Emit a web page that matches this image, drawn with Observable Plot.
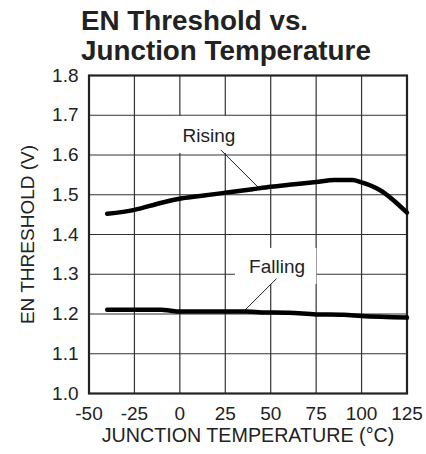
<!DOCTYPE html>
<html>
<head>
<meta charset="utf-8">
<script src="https://cdn.jsdelivr.net/npm/d3@7"></script>
<script src="https://cdn.jsdelivr.net/npm/@observablehq/plot@0.6"></script>
<style>
  html, body { margin: 0; padding: 0; background: white; }
  #wrap { position: relative; width: 426px; height: 454px; }
  #title { position: absolute; left: 81px; top: 5.8px; font: bold 27.8px/30.5px "Liberation Sans", Arial, sans-serif; color: #222; white-space: nowrap; z-index: 2; }
  #chart { position: absolute; left: 0; top: 0; }
</style>
</head>
<body>
<div id="wrap">
  <div id="title"></div>
  <div id="chart"></div>
</div>
<script>
const titleLines = ["EN Threshold vs.", "Junction Temperature"];
const xLabel = "JUNCTION TEMPERATURE (°C)";
const yLabel = "EN THRESHOLD (V)";
const xTicks = [-50, -25, 0, 25, 50, 75, 100, 125];
const yTicks = [1.0, 1.1, 1.2, 1.3, 1.4, 1.5, 1.6, 1.7, 1.8];

const risingTemp = [-40, -25, -10, 0, 10, 25, 40, 50, 60, 75, 85, 95, 100, 110, 125];
const risingVolt = [1.452, 1.462, 1.480, 1.490, 1.496, 1.505, 1.514, 1.520, 1.525, 1.532, 1.537, 1.537, 1.531, 1.512, 1.455];
const fallingTemp = [-40, -25, -10, -5, 0, 25, 37, 45, 60, 75, 90, 100, 125];
const fallingVolt = [1.211, 1.211, 1.211, 1.208, 1.206, 1.206, 1.206, 1.204, 1.203, 1.199, 1.198, 1.195, 1.191];

// annotation labels: text, position (temp, volt), white box behind, leader start/end
const labelNames = ["Rising", "Falling"];
const labelTemp = [16, 53.5];
const labelVolt = [1.6475, 1.318];
const boxTemp = [[-3, 26.5], [30.6, 75.4]];
const boxVolt = [[1.604, 1.697], [1.274, 1.365]];
const leaderFrom = [[22.5, 1.613], [53.2, 1.289]];
const leaderTo = [[43.5, 1.517], [35, 1.206]];

document.getElementById("title").innerHTML = titleLines.join("<br>");

const rising = risingTemp.map((t, i) => ({t, v: risingVolt[i]}));
const falling = fallingTemp.map((t, i) => ({t, v: fallingVolt[i]}));
const labels = labelNames.map((name, i) => ({name, t: labelTemp[i], v: labelVolt[i]}));
const boxes = boxTemp.map((b, i) => ({x1: b[0], x2: b[1], y1: boxVolt[i][0], y2: boxVolt[i][1]}));
const leaders = leaderFrom.map((f, i) => ({x1: f[0], y1: f[1], x2: leaderTo[i][0], y2: leaderTo[i][1]}));

const chart = Plot.plot({
  width: 426,
  height: 454,
  marginLeft: 88.5,
  marginRight: 19.5,
  marginTop: 75,
  marginBottom: 61,
  style: { fontFamily: "'Liberation Sans', Arial, sans-serif", fontSize: "19px", color: "#222", background: "white", overflow: "visible" },
  x: { domain: [-50, 125], ticks: xTicks, tickFormat: d => String(d), tickSize: 0, tickPadding: 13, label: null },
  y: { domain: [1.0, 1.8], ticks: yTicks, tickFormat: d => d.toFixed(1), tickSize: 0, tickPadding: 10.5, label: null },
  marks: [
    Plot.ruleX(xTicks.slice(1, -1), { stroke: "#333", strokeWidth: 1.2 }),
    Plot.ruleY(yTicks.slice(1, -1), { stroke: "#333", strokeWidth: 1.2 }),
    Plot.rect(boxes, { x1: "x1", x2: "x2", y1: "y1", y2: "y2", fill: "white" }),
    Plot.frame({ stroke: "#222", strokeWidth: 2.2 }),
    Plot.link(leaders, { x1: "x1", y1: "y1", x2: "x2", y2: "y2", stroke: "#222", strokeWidth: 1 }),
    Plot.line(rising, { x: "t", y: "v", stroke: "black", strokeWidth: 4.5, curve: "monotone-x" }),
    Plot.line(falling, { x: "t", y: "v", stroke: "black", strokeWidth: 4.5, curve: "monotone-x" }),
    Plot.text(labels, { x: "t", y: "v", text: "name", fontSize: 19, fill: "#222" }),
    Plot.text([xLabel], { frameAnchor: "bottom", lineAnchor: "middle", textAnchor: "middle", dy: 42.3, fontSize: 19.7, fill: "#222" }),
    Plot.text([yLabel], { frameAnchor: "left", lineAnchor: "middle", textAnchor: "middle", dx: -61, dy: 0, rotate: -90, fontSize: 19, fill: "#222" })
  ]
});
document.getElementById("chart").appendChild(chart);
</script>
</body>
</html>
